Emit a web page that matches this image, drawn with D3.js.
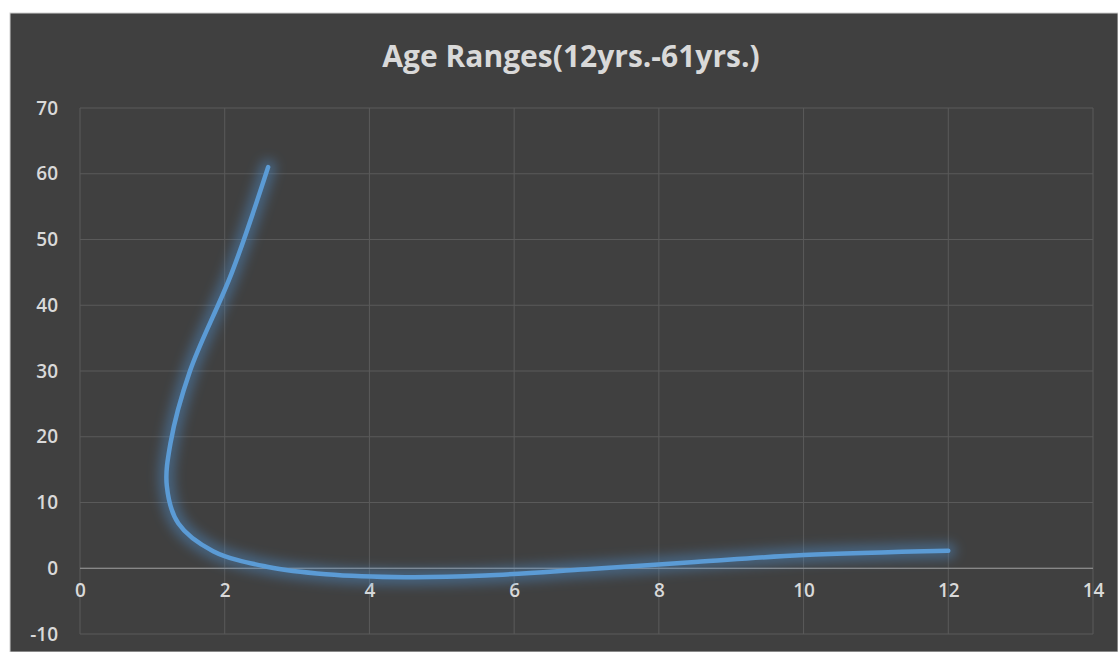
<!DOCTYPE html>
<html>
<head>
<meta charset="utf-8">
<script src="https://cdn.jsdelivr.net/npm/d3@7"></script>
<style>
    body { margin: 0; background: #ffffff; }
    svg { display: block; }
</style>
</head>
<body>
<div class="chart"></div>
<script>
// values
const title = 'Age Ranges(12yrs.-61yrs.)'
const xValues = [2.6, 2.1, 1.52, 1.25, 1.2, 1.36, 1.84, 2.6, 3.4, 4.5, 5.6, 7.0, 8.5, 10.0, 12.0]
const yValues = [61, 45, 30, 19, 12.5, 6.8, 2.6, 0.2, -0.9, -1.35, -1.1, -0.15, 0.95, 2.0, 2.65]
const xTicks = [0, 2, 4, 6, 8, 10, 12, 14]
const yTicks = [-10, 0, 10, 20, 30, 40, 50, 60, 70]

let dims = {
    width: 1118,
    height: 652,
    margin: { top: 108, bottom: 18, left: 80, right: 25 }
}

const svg = d3.select('.chart')
    .append('svg')
    .attr('width', dims.width)
    .attr('height', dims.height)

// dark chart area
svg.append('rect')
    .attr('x', 10).attr('y', 13)
    .attr('width', dims.width - 10).attr('height', dims.height - 13)
    .attr('fill', '#404040')
    .attr('stroke', '#d0d0d0')
    .attr('stroke-width', 1)

// glow filter for the line
const defs = svg.append('defs')
const glow = defs.append('filter').attr('id', 'glow')
    .attr('x', '-20%').attr('y', '-20%').attr('width', '140%').attr('height', '140%')
glow.append('feGaussianBlur').attr('in', 'SourceGraphic').attr('stdDeviation', 6)

const container = svg.append('g')
    .attr('transform', `translate(${dims.margin.left},${dims.margin.top})`)

const w = 1093 - dims.margin.left
const h = 634 - dims.margin.top

const xScale = d3.scaleLinear().domain([0, 14]).range([0, w])
const yScale = d3.scaleLinear().domain([-10, 70]).range([h, 0])

// gridlines
container.append('g')
    .selectAll('line')
    .data(yTicks)
    .join('line')
    .attr('x1', 0).attr('x2', w)
    .attr('y1', d => yScale(d)).attr('y2', d => yScale(d))
    .attr('stroke', '#5a5a5a')
    .attr('stroke-width', 1)

container.append('g')
    .selectAll('line')
    .data(xTicks)
    .join('line')
    .attr('x1', d => xScale(d)).attr('x2', d => xScale(d))
    .attr('y1', 0).attr('y2', h)
    .attr('stroke', '#5a5a5a')
    .attr('stroke-width', 1)

// zero axis line
container.append('line')
    .attr('x1', 0).attr('x2', w)
    .attr('y1', yScale(0)).attr('y2', yScale(0))
    .attr('stroke', '#9a9a9a')
    .attr('stroke-width', 1)

// Y Axis labels
const yAxis = d3.axisLeft(yScale).tickValues(yTicks).tickSize(0).tickPadding(22)
    .tickFormat(d => String(d))
container.append('g')
    .call(yAxis)
    .call(g => g.select('.domain').remove())
    .selectAll('text')
    .attr('fill', '#d9d9d9')
    .attr('font-family', 'Open Sans, sans-serif')
    .attr('font-weight', 600)
    .attr('font-size', '19px')

// X Axis labels (hang under the zero line)
const xAxis = d3.axisBottom(xScale).tickValues(xTicks).tickSize(0).tickPadding(15)
    .tickFormat(d => String(d))
container.append('g')
    .attr('transform', `translate(0, ${yScale(0)})`)
    .call(xAxis)
    .call(g => g.select('.domain').remove())
    .selectAll('text')
    .attr('fill', '#d9d9d9')
    .attr('font-family', 'Open Sans, sans-serif')
    .attr('font-weight', 600)
    .attr('font-size', '19px')

// the smoothed line
const points = xValues.map((x, i) => [x, yValues[i]])
const line = d3.line()
    .x(d => xScale(d[0]))
    .y(d => yScale(d[1]))
    .curve(d3.curveCatmullRom.alpha(0.5))

container.append('path')
    .datum(points)
    .attr('d', line)
    .attr('fill', 'none')
    .attr('stroke', '#4f8fcc')
    .attr('stroke-width', 16)
    .attr('stroke-linecap', 'round')
    .attr('opacity', 0.45)
    .attr('filter', 'url(#glow)')

container.append('path')
    .datum(points)
    .attr('d', line)
    .attr('fill', 'none')
    .attr('stroke', '#5b9bd5')
    .attr('stroke-width', 4.5)
    .attr('stroke-linecap', 'round')

// Title
svg.append('text')
    .attr('x', 571)
    .attr('y', 67)
    .attr('text-anchor', 'middle')
    .attr('fill', '#d9d9d9')
    .attr('font-family', 'Open Sans, sans-serif')
    .attr('font-weight', 'bold')
    .attr('font-size', '30px')
    .text(title)
</script>
</body>
</html>
